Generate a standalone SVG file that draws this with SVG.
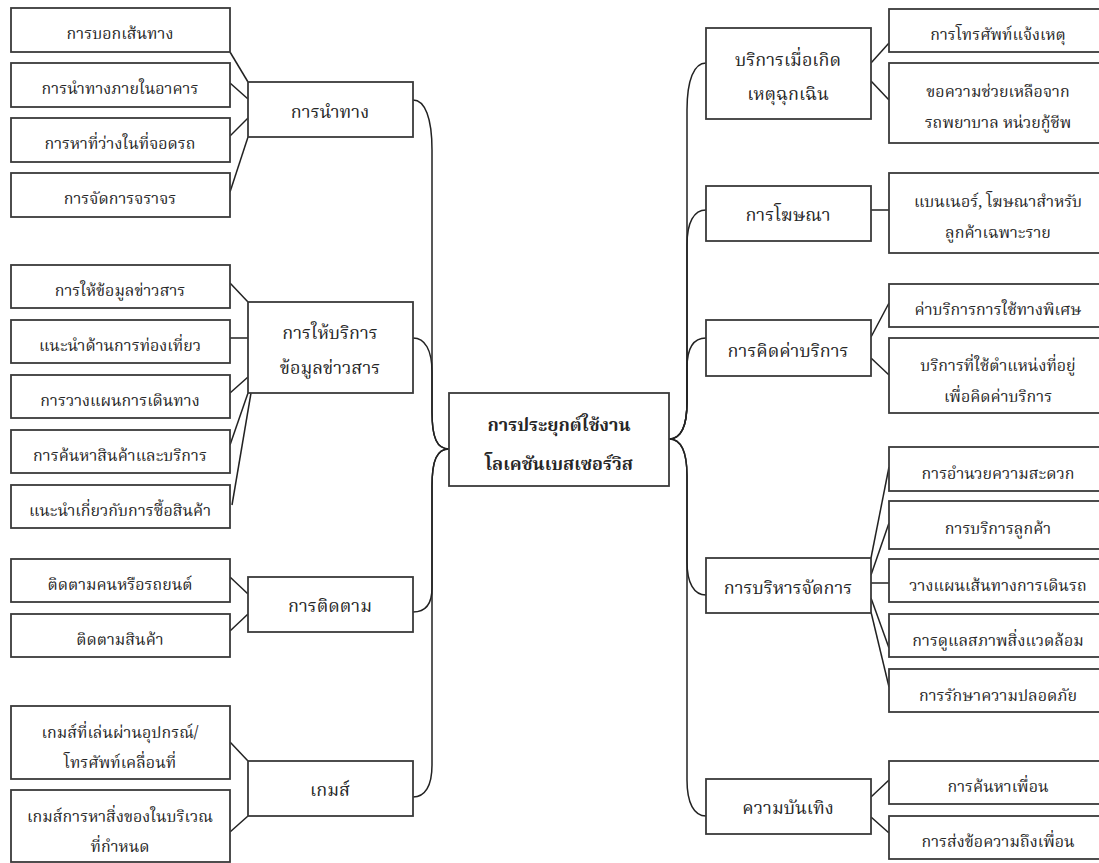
<svg xmlns="http://www.w3.org/2000/svg" width="1099" height="863" viewBox="0 0 1099 863">
<style>
.box{fill:#fff;stroke:#3a3a3a;stroke-width:1.8}
.ln{fill:none;stroke:#222;stroke-width:1.5}
text{font-family:"Noto Serif Thai","Norasi","Liberation Serif","DejaVu Serif",serif;fill:#262626;text-anchor:middle;dominant-baseline:central}
.lf{font-size:16px}
.md{font-size:18px}
.ct{font-size:18px;font-weight:bold}
</style>
<rect width="1099" height="863" fill="#fff"/>
<g id="connectors">
<path class="ln" d="M449 449 C437 449 432 438 432 412 L432 150 C432 118 425 100 413 100"/>
<path class="ln" d="M449 449 C437 449 432 438 432 412 L432 372 C432 350 425 338 413 338"/>
<path class="ln" d="M449 449 C437 449 432 460 432 486 L432 588 C432 604 425 612 413 612"/>
<path class="ln" d="M449 449 C437 449 432 460 432 486 L432 765 C432 786 425 797 413 797"/>
<path class="ln" d="M669 439 C681 439 687 428 687 402 L687 110 C687 80 694 63 706 63"/>
<path class="ln" d="M669 439 C681 439 687 428 687 402 L687 245 C687 222 694 210 706 210"/>
<path class="ln" d="M669 439 C681 439 687 428 687 402 L687 368 C687 348 694 338 706 338"/>
<path class="ln" d="M669 439 C681 439 687 450 687 476 L687 562 C687 583 694 595 706 595"/>
<path class="ln" d="M669 439 C681 439 687 450 687 476 L687 780 C687 803 694 816 706 816"/>
<line class="ln" x1="230" y1="52" x2="248" y2="82"/>
<line class="ln" x1="230" y1="83" x2="248" y2="99"/>
<line class="ln" x1="230" y1="136" x2="248" y2="118"/>
<line class="ln" x1="230" y1="192" x2="248" y2="137"/>
<line class="ln" x1="230" y1="283" x2="248" y2="302"/>
<line class="ln" x1="230" y1="338" x2="248" y2="338"/>
<line class="ln" x1="230" y1="393" x2="248" y2="377"/>
<line class="ln" x1="230" y1="445" x2="248" y2="393"/>
<line class="ln" x1="232" y1="505" x2="251" y2="393"/>
<line class="ln" x1="230" y1="577" x2="248" y2="594"/>
<line class="ln" x1="230" y1="631" x2="248" y2="614"/>
<line class="ln" x1="230" y1="742" x2="248" y2="761"/>
<line class="ln" x1="230" y1="832" x2="248" y2="816"/>
<line class="ln" x1="871" y1="63" x2="889" y2="43"/>
<line class="ln" x1="871" y1="81" x2="889" y2="100"/>
<line class="ln" x1="871" y1="210" x2="889" y2="210"/>
<line class="ln" x1="871" y1="337" x2="889" y2="303"/>
<line class="ln" x1="871" y1="358" x2="889" y2="375"/>
<line class="ln" x1="871" y1="558" x2="889" y2="467"/>
<line class="ln" x1="871" y1="575" x2="889" y2="523"/>
<line class="ln" x1="871" y1="583" x2="889" y2="583"/>
<line class="ln" x1="871" y1="598" x2="889" y2="648"/>
<line class="ln" x1="871" y1="612" x2="889" y2="687"/>
<line class="ln" x1="871" y1="797" x2="889" y2="780"/>
<line class="ln" x1="871" y1="817" x2="889" y2="833"/>
</g>
<g id="center"><rect class="box" x="449" y="393" width="220" height="93"/><text class="ct" x="559" y="426">การประยุกต์ใช้งาน</text><text class="ct" x="559" y="465">โลเคชันเบสเซอร์วิส</text></g>
<g id="nav"><rect class="box" x="248" y="82" width="165" height="55"/><text class="md" x="330" y="113">การนำทาง</text></g>
<g id="nav1"><rect class="box" x="11" y="8" width="219" height="44"/><text class="lf" x="120" y="35">การบอกเส้นทาง</text></g>
<g id="nav2"><rect class="box" x="11" y="63" width="219" height="44"/><text class="lf" x="120" y="90">การนำทางภายในอาคาร</text></g>
<g id="nav3"><rect class="box" x="11" y="118" width="219" height="44"/><text class="lf" x="120" y="145">การหาที่ว่างในที่จอดรถ</text></g>
<g id="nav4"><rect class="box" x="11" y="173" width="219" height="44"/><text class="lf" x="120" y="200">การจัดการจราจร</text></g>
<g id="info"><rect class="box" x="248" y="302" width="165" height="91"/><text class="md" x="330" y="334">การให้บริการ</text><text class="md" x="330" y="369">ข้อมูลข่าวสาร</text></g>
<g id="info1"><rect class="box" x="11" y="265" width="219" height="43"/><text class="lf" x="120" y="292">การให้ข้อมูลข่าวสาร</text></g>
<g id="info2"><rect class="box" x="11" y="320" width="219" height="43"/><text class="lf" x="120" y="347">แนะนำด้านการท่องเที่ยว</text></g>
<g id="info3"><rect class="box" x="11" y="375" width="219" height="43"/><text class="lf" x="120" y="402">การวางแผนการเดินทาง</text></g>
<g id="info4"><rect class="box" x="11" y="430" width="219" height="43"/><text class="lf" x="120" y="457">การค้นหาสินค้าและบริการ</text></g>
<g id="info5"><rect class="box" x="11" y="485" width="219" height="43"/><text class="lf" x="120" y="512">แนะนำเกี่ยวกับการซื้อสินค้า</text></g>
<g id="track"><rect class="box" x="248" y="577" width="165" height="55"/><text class="md" x="330" y="607">การติดตาม</text></g>
<g id="track1"><rect class="box" x="11" y="559" width="219" height="43"/><text class="lf" x="120" y="586">ติดตามคนหรือรถยนต์</text></g>
<g id="track2"><rect class="box" x="11" y="614" width="219" height="43"/><text class="lf" x="120" y="641">ติดตามสินค้า</text></g>
<g id="game"><rect class="box" x="248" y="761" width="165" height="55"/><text class="md" x="330" y="791">เกมส์</text></g>
<g id="game1"><rect class="box" x="11" y="706" width="219" height="73"/><text class="lf" x="120" y="734">เกมส์ที่เล่นผ่านอุปกรณ์/</text><text class="lf" x="120" y="764">โทรศัพท์เคลื่อนที่</text></g>
<g id="game2"><rect class="box" x="11" y="790" width="219" height="72"/><text class="lf" x="120" y="818">เกมส์การหาสิ่งของในบริเวณ</text><text class="lf" x="120" y="848">ที่กำหนด</text></g>
<g id="emg"><rect class="box" x="706" y="28" width="165" height="91"/><text class="md" x="788" y="61">บริการเมื่อเกิด</text><text class="md" x="788" y="95">เหตุฉุกเฉิน</text></g>
<g id="emg1"><rect class="box" x="889" y="9" width="219" height="43"/><text class="lf" x="998" y="36">การโทรศัพท์แจ้งเหตุ</text></g>
<g id="emg2"><rect class="box" x="889" y="63" width="219" height="80"/><text class="lf" x="998" y="93">ขอความช่วยเหลือจาก</text><text class="lf" x="998" y="124">รถพยาบาล หน่วยกู้ชีพ</text></g>
<g id="ads"><rect class="box" x="706" y="186" width="165" height="55"/><text class="md" x="788" y="216">การโฆษณา</text></g>
<g id="ads1"><rect class="box" x="889" y="173" width="219" height="80"/><text class="lf" x="998" y="203">แบนเนอร์, โฆษณาสำหรับ</text><text class="lf" x="998" y="234">ลูกค้าเฉพาะราย</text></g>
<g id="bill"><rect class="box" x="706" y="320" width="165" height="56"/><text class="md" x="788" y="352">การคิดค่าบริการ</text></g>
<g id="bill1"><rect class="box" x="889" y="284" width="219" height="43"/><text class="lf" x="998" y="311">ค่าบริการการใช้ทางพิเศษ</text></g>
<g id="bill2"><rect class="box" x="889" y="338" width="219" height="75"/><text class="lf" x="998" y="367">บริการที่ใช้ตำแหน่งที่อยู่</text><text class="lf" x="998" y="398">เพื่อคิดค่าบริการ</text></g>
<g id="mgmt"><rect class="box" x="706" y="558" width="165" height="55"/><text class="md" x="788" y="589">การบริหารจัดการ</text></g>
<g id="mgmt1"><rect class="box" x="889" y="447" width="219" height="44"/><text class="lf" x="998" y="475">การอำนวยความสะดวก</text></g>
<g id="mgmt2"><rect class="box" x="889" y="501" width="219" height="48"/><text class="lf" x="998" y="530">การบริการลูกค้า</text></g>
<g id="mgmt3"><rect class="box" x="889" y="559" width="219" height="43"/><text class="lf" x="998" y="587">วางแผนเส้นทางการเดินรถ</text></g>
<g id="mgmt4"><rect class="box" x="889" y="614" width="219" height="43"/><text class="lf" x="998" y="642">การดูแลสภาพสิ่งแวดล้อม</text></g>
<g id="mgmt5"><rect class="box" x="889" y="669" width="219" height="43"/><text class="lf" x="998" y="697">การรักษาความปลอดภัย</text></g>
<g id="ent"><rect class="box" x="706" y="779" width="165" height="55"/><text class="md" x="788" y="809">ความบันเทิง</text></g>
<g id="ent1"><rect class="box" x="889" y="761" width="219" height="43"/><text class="lf" x="998" y="788">การค้นหาเพื่อน</text></g>
<g id="ent2"><rect class="box" x="889" y="816" width="219" height="43"/><text class="lf" x="998" y="843">การส่งข้อความถึงเพื่อน</text></g>
</svg>
